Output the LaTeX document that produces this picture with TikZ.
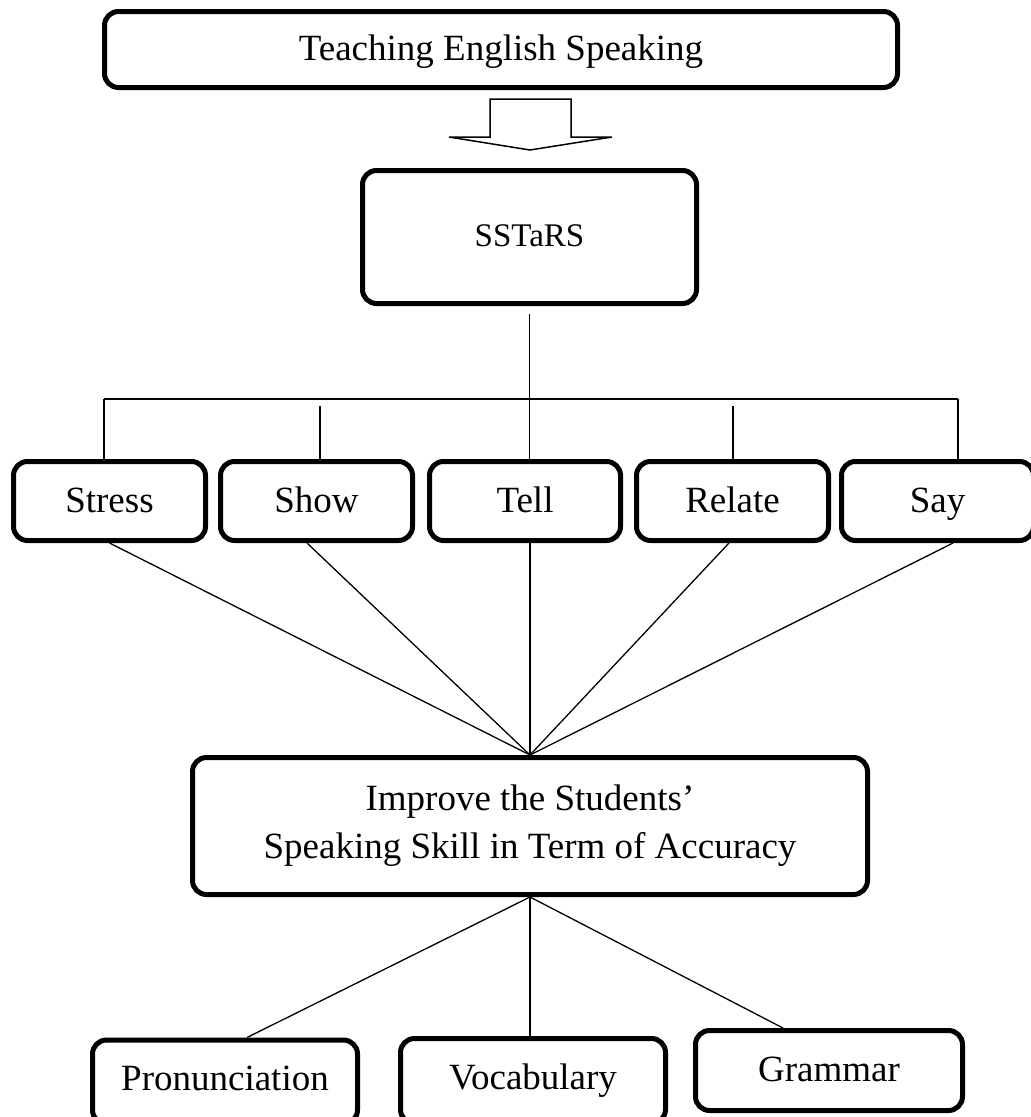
\documentclass[tikz,border=0pt]{standalone}
\usepackage{fontspec}
\setmainfont{Liberation Serif}
\usepackage{tikz}

\begin{document}
\begin{tikzpicture}[
   x=1pt, y=-1pt,
   boxed/.style={rectangle, rounded corners=14, draw=black, fill=white, line width=5,
                 text=black, inner sep=0, font=\fontsize{37}{48}\selectfont},
   headbox/.style={boxed, minimum width=793, minimum height=76, text height=27, text depth=5},
   corebox/.style={boxed, minimum width=334, minimum height=133, text height=23, text depth=4,
                   font=\fontsize{33}{38}\selectfont},
   stepbox/.style={boxed, minimum width=192, minimum height=79, text height=27, text depth=5},
   goalbox/.style={boxed, minimum width=675, minimum height=137, align=center},
   aspbox/.style={boxed, minimum width=265, minimum height=79, text height=27, text depth=5},
   conn/.style={draw=black, line width=1.3},
   hollow/.style={draw=black, fill=white, line width=1.5, line join=miter}
  ]

  \useasboundingbox (0, 0) rectangle (1031, 1117);

  % Top
  \node (teach) at (501, 49.5) [headbox] {Teaching English Speaking};
  \draw[hollow] (490, 99) -- (490, 137) -- (449, 137) -- (530, 150) -- (612, 137)
                -- (571, 137) -- (571, 99) -- cycle;
  \node (sstars) at (529.5, 237) [corebox] {SSTaRS};

  % Steps
  \node (stress) at (109.5, 501) [stepbox] {Stress};
  \node (show)   at (316.5, 501) [stepbox] {Show};
  \node (tell)   at (525, 501)   [stepbox, minimum width=191] {Tell};
  \node (relate) at (732.5, 501) [stepbox] {Relate};
  \node (say)    at (937.5, 501) [stepbox] {Say};

  \coordinate (busL) at (104, 399);
  \coordinate (busR) at (958, 399);
  \coordinate (showtop) at (320, 406);
  \coordinate (relatetop) at (733, 406);

  \draw[conn] ([yshift=-8]sstars.south) -- (sstars.south |- tell.north);
  \draw[conn] (busL) -- (busR);
  \foreach \B/\E in {busL/stress, busR/say, showtop/show, relatetop/relate} {
    \draw[conn] (\B) -- (\B |- \E.north);
  }

  % Goal
  \node (goal) at (530, 826) [goalbox] {Improve the Students'\\Speaking Skill in Term of Accuracy};

  \foreach \E/\s in {stress/0, show/-9.5, tell/5, relate/-3.5, say/15.5} {
    \draw[conn] ([xshift=\s]\E.south) -- (goal.north);
  }

  % Aspects
  \node (pron)  at (225, 1082)    [aspbox, minimum height=84, text depth=11] {Pronunciation};
  \node (vocab) at (533, 1081)    [aspbox, minimum height=85, text depth=11] {Vocabulary};
  \node (gram)  at (829, 1070.5)  [aspbox, minimum width=267, minimum height=80] {Grammar};

  \foreach \E/\s in {pron/22, vocab/-3, gram/-46} {
    \draw[conn] (goal.south) -- ([xshift=\s]\E.north);
  }

\end{tikzpicture}
\end{document}
